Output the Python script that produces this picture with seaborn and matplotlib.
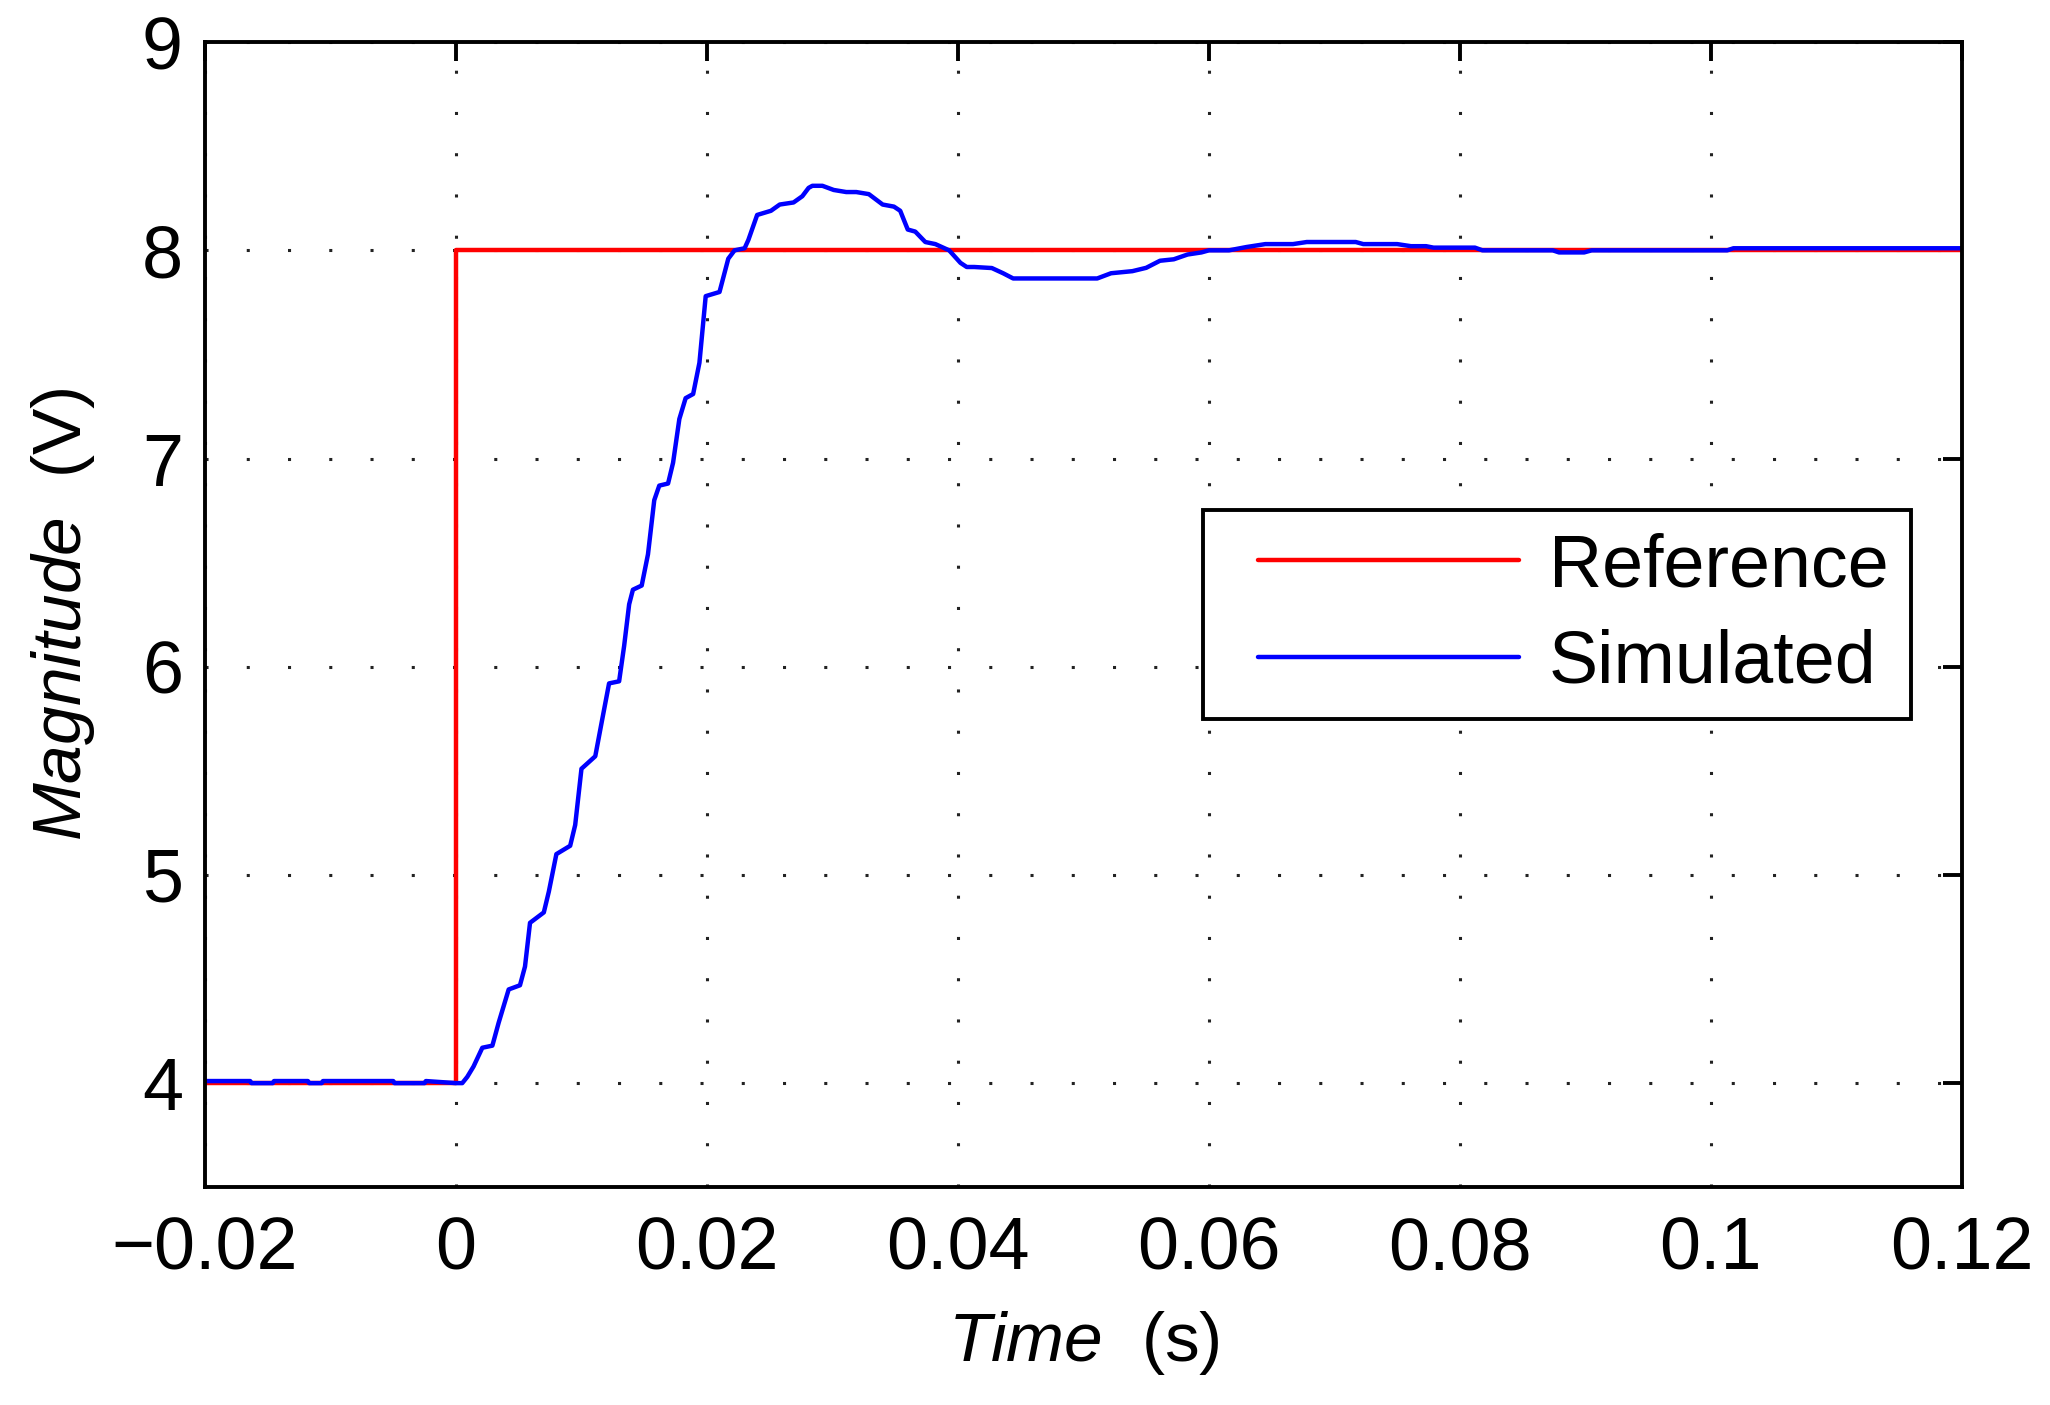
import numpy as np
import pandas as pd
import matplotlib
matplotlib.use('Agg')
import matplotlib.pyplot as plt
import seaborn as sns
from matplotlib.legend_handler import HandlerLine2D

# reference step input
ref_time = [-0.02, 0.0, 0.0, 0.12]
ref_volt = [4.0, 4.0, 8.0, 8.0]

# simulated response, values
sim_time = [-0.02, -0.0164, -0.0163, -0.0146, -0.0145, -0.0118, -0.0117, -0.0107,
            -0.0106, -0.005, -0.0049, -0.0025, -0.0024, 0.0, 0.0005, 0.0009,
            0.0014, 0.0021, 0.0029, 0.0034, 0.0042, 0.0051, 0.0055, 0.0059,
            0.0070, 0.0074, 0.0080, 0.0091, 0.0095, 0.0100, 0.0111, 0.0116,
            0.0122, 0.0130, 0.0134, 0.0138, 0.0141, 0.0148, 0.0153, 0.0158,
            0.0162, 0.0169, 0.0173, 0.0178, 0.0183, 0.0189, 0.0194, 0.0199,
            0.0210, 0.0217, 0.0222, 0.0230, 0.0233, 0.0240, 0.0251, 0.0258,
            0.0269, 0.0276, 0.0281, 0.0284, 0.0292, 0.0301, 0.0311, 0.0319,
            0.0329, 0.0340, 0.0349, 0.0354, 0.0360, 0.0366, 0.0374, 0.0382,
            0.0393, 0.0402, 0.0407, 0.0413, 0.0427, 0.0436, 0.0444, 0.0511,
            0.0522, 0.0539, 0.0550, 0.0561, 0.0572, 0.0583, 0.0594, 0.0600,
            0.0616, 0.0630, 0.0645, 0.0667, 0.0678, 0.0717, 0.0723, 0.0750,
            0.0761, 0.0773, 0.0779, 0.0812, 0.0818, 0.0874, 0.0879, 0.0899,
            0.0905, 0.1013, 0.1018, 0.12]
sim_volt = [4.01, 4.01, 4.0, 4.0, 4.01, 4.01, 4.0, 4.0,
            4.01, 4.01, 4.0, 4.0, 4.01, 4.0, 4.0, 4.03,
            4.08, 4.17, 4.18, 4.29, 4.45, 4.47, 4.56, 4.77,
            4.82, 4.92, 5.10, 5.14, 5.24, 5.51, 5.57, 5.73,
            5.92, 5.93, 6.10, 6.30, 6.37, 6.39, 6.54, 6.80,
            6.87, 6.88, 6.98, 7.19, 7.29, 7.31, 7.46, 7.78,
            7.80, 7.96, 8.00, 8.01, 8.05, 8.17, 8.19, 8.22,
            8.23, 8.26, 8.30, 8.31, 8.31, 8.29, 8.28, 8.28,
            8.27, 8.22, 8.21, 8.19, 8.10, 8.09, 8.04, 8.03,
            8.00, 7.94, 7.92, 7.92, 7.915, 7.89, 7.865, 7.865,
            7.89, 7.90, 7.916, 7.95, 7.957, 7.98, 7.99, 8.00,
            8.00, 8.016, 8.03, 8.03, 8.04, 8.04, 8.03, 8.03,
            8.02, 8.02, 8.013, 8.013, 8.00, 8.00, 7.99, 7.99,
            8.00, 8.00, 8.01, 8.01]

x_ticks = [-0.02, 0.0, 0.02, 0.04, 0.06, 0.08, 0.1, 0.12]
x_tick_labels = ['\u22120.02', '0', '0.02', '0.04', '0.06', '0.08', '0.1', '0.12']
y_ticks = [4, 5, 6, 7, 8, 9]
y_tick_labels = ['4', '5', '6', '7', '8', '9']

sns.set_style('white')
plt.rcParams['font.family'] = ['Liberation Sans', 'DejaVu Sans']
plt.rcParams['mathtext.fontset'] = 'custom'
plt.rcParams['mathtext.rm'] = 'Liberation Sans'
plt.rcParams['mathtext.it'] = 'Liberation Sans:italic'
plt.rcParams['text.color'] = 'black'
plt.rcParams['axes.labelcolor'] = 'black'

fig = plt.figure(figsize=(10.25, 7.025), dpi=200, facecolor='white')
ax = fig.add_axes([0.100, 0.155, 0.857, 0.815])

ref = pd.DataFrame({'t': ref_time, 'v': ref_volt})
sim = pd.DataFrame({'t': sim_time, 'v': sim_volt})

sns.lineplot(data=ref, x='t', y='v', ax=ax, color='#ff0000', linewidth=1.6,
             estimator=None, sort=False, label='Reference')
sns.lineplot(data=sim, x='t', y='v', ax=ax, color='#0000ff', linewidth=1.6,
             estimator=None, sort=False, label='Simulated')

ax.set_xlim(-0.02, 0.12)
ax.set_ylim(3.5, 9)
ax.set_xticks(x_ticks)
ax.set_xticklabels(x_tick_labels)
ax.set_yticks(y_ticks)
ax.set_yticklabels(y_tick_labels)

# matlab look: box on, ticks inward, dotted grid
ax.grid(True, linestyle=(0, (1, 12.5)), color='#222222', linewidth=1.1)
for s in ax.spines.values():
    s.set_visible(True)
    s.set_color('black')
    s.set_linewidth(1.4)
ax.tick_params(direction='in', length=7, width=1.4, top=True, right=True,
               labelsize=26.5, colors='black', pad=10)
ax.tick_params(axis='y', pad=8)

ax.set_xlabel(r'$\mathit{Time}$  (s)', fontsize=25, labelpad=9)
ax.set_ylabel(r'$\mathit{Magnitude}$  (V)', fontsize=25, labelpad=16)

leg = ax.legend(loc='center left', bbox_to_anchor=(0.568, 0.5), fontsize=26.5,
                frameon=True, fancybox=False, framealpha=1, edgecolor='black',
                handlelength=3.99, handletextpad=0.41, borderpad=0.3,
                labelspacing=0.37, borderaxespad=0,
                handler_map={plt.Line2D: HandlerLine2D(xpad=0.45)})
leg.get_frame().set_linewidth(1.4)

plt.savefig('out.png', dpi=200)
